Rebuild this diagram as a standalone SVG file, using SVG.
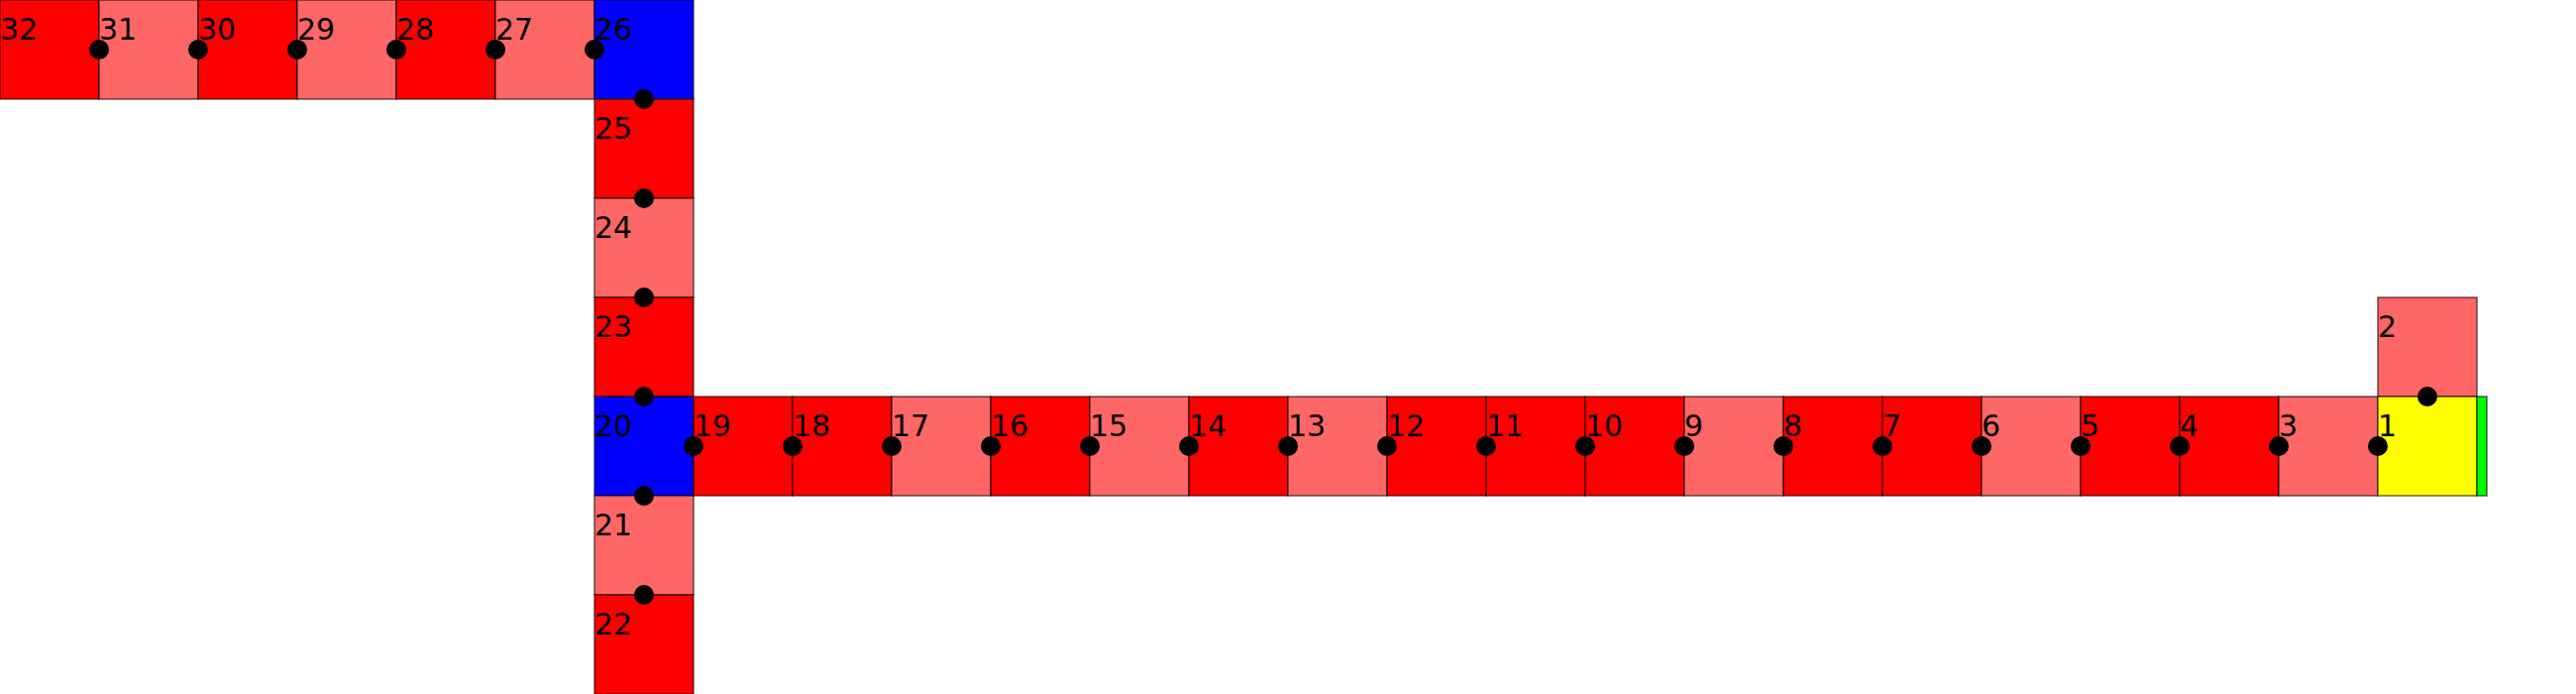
<svg xmlns="http://www.w3.org/2000/svg" width="2600" height="700" viewBox="0 0 2600 700">
<style>
rect{stroke:#000;stroke-opacity:0.6;stroke-width:1.5}
.r{fill:#ff0000}
.l{fill:#ff6666}
.b{fill:#0000ff}
.y{fill:#ffff00}
.g{fill:#00ff00}
text{font-family:"DejaVu Sans",sans-serif;font-size:30px;fill:#000}
circle{fill:#000}
</style>
<g id="nodes">
<g id="n32"><rect class="r" x="0" y="0" width="100" height="100"/><text x="0" y="40">32</text></g>
<g id="n31"><rect class="l" x="100" y="0" width="100" height="100"/><text x="100" y="40">31</text></g>
<g id="n30"><rect class="r" x="200" y="0" width="100" height="100"/><text x="200" y="40">30</text></g>
<g id="n29"><rect class="l" x="300" y="0" width="100" height="100"/><text x="300" y="40">29</text></g>
<g id="n28"><rect class="r" x="400" y="0" width="100" height="100"/><text x="400" y="40">28</text></g>
<g id="n27"><rect class="l" x="500" y="0" width="100" height="100"/><text x="500" y="40">27</text></g>
<g id="n26"><rect class="b" x="600" y="0" width="100" height="100"/><text x="600" y="40">26</text></g>
<g id="n25"><rect class="r" x="600" y="100" width="100" height="100"/><text x="600" y="140">25</text></g>
<g id="n24"><rect class="l" x="600" y="200" width="100" height="100"/><text x="600" y="240">24</text></g>
<g id="n23"><rect class="r" x="600" y="300" width="100" height="100"/><text x="600" y="340">23</text></g>
<g id="n20"><rect class="b" x="600" y="400" width="100" height="100"/><text x="600" y="440">20</text></g>
<g id="n21"><rect class="l" x="600" y="500" width="100" height="100"/><text x="600" y="540">21</text></g>
<g id="n22"><rect class="r" x="600" y="600" width="100" height="100"/><text x="600" y="640">22</text></g>
<g id="n19"><rect class="r" x="700" y="400" width="100" height="100"/><text x="700" y="440">19</text></g>
<g id="n18"><rect class="r" x="800" y="400" width="100" height="100"/><text x="800" y="440">18</text></g>
<g id="n17"><rect class="l" x="900" y="400" width="100" height="100"/><text x="900" y="440">17</text></g>
<g id="n16"><rect class="r" x="1000" y="400" width="100" height="100"/><text x="1000" y="440">16</text></g>
<g id="n15"><rect class="l" x="1100" y="400" width="100" height="100"/><text x="1100" y="440">15</text></g>
<g id="n14"><rect class="r" x="1200" y="400" width="100" height="100"/><text x="1200" y="440">14</text></g>
<g id="n13"><rect class="l" x="1300" y="400" width="100" height="100"/><text x="1300" y="440">13</text></g>
<g id="n12"><rect class="r" x="1400" y="400" width="100" height="100"/><text x="1400" y="440">12</text></g>
<g id="n11"><rect class="r" x="1500" y="400" width="100" height="100"/><text x="1500" y="440">11</text></g>
<g id="n10"><rect class="r" x="1600" y="400" width="100" height="100"/><text x="1600" y="440">10</text></g>
<g id="n9"><rect class="l" x="1700" y="400" width="100" height="100"/><text x="1700" y="440">9</text></g>
<g id="n8"><rect class="r" x="1800" y="400" width="100" height="100"/><text x="1800" y="440">8</text></g>
<g id="n7"><rect class="r" x="1900" y="400" width="100" height="100"/><text x="1900" y="440">7</text></g>
<g id="n6"><rect class="l" x="2000" y="400" width="100" height="100"/><text x="2000" y="440">6</text></g>
<g id="n5"><rect class="r" x="2100" y="400" width="100" height="100"/><text x="2100" y="440">5</text></g>
<g id="n4"><rect class="r" x="2200" y="400" width="100" height="100"/><text x="2200" y="440">4</text></g>
<g id="n3"><rect class="l" x="2300" y="400" width="100" height="100"/><text x="2300" y="440">3</text></g>
<g id="n2"><rect class="l" x="2400" y="300" width="100" height="100"/><text x="2400" y="340">2</text></g>
<g id="n1"><rect class="y" x="2400" y="400" width="100" height="100"/><text x="2400" y="440">1</text></g>
<g id="green"><rect class="g" x="2500" y="400" width="10" height="100"/></g>
</g>
<g id="connectors">
<circle cx="100" cy="50" r="10"/><circle cx="200" cy="50" r="10"/><circle cx="300" cy="50" r="10"/>
<circle cx="400" cy="50" r="10"/><circle cx="500" cy="50" r="10"/><circle cx="600" cy="50" r="10"/>
<circle cx="650" cy="100" r="10"/><circle cx="650" cy="200" r="10"/><circle cx="650" cy="300" r="10"/>
<circle cx="650" cy="400" r="10"/><circle cx="650" cy="500" r="10"/><circle cx="650" cy="600" r="10"/>
<circle cx="700" cy="450" r="10"/><circle cx="800" cy="450" r="10"/><circle cx="900" cy="450" r="10"/>
<circle cx="1000" cy="450" r="10"/><circle cx="1100" cy="450" r="10"/><circle cx="1200" cy="450" r="10"/>
<circle cx="1300" cy="450" r="10"/><circle cx="1400" cy="450" r="10"/><circle cx="1500" cy="450" r="10"/>
<circle cx="1600" cy="450" r="10"/><circle cx="1700" cy="450" r="10"/><circle cx="1800" cy="450" r="10"/>
<circle cx="1900" cy="450" r="10"/><circle cx="2000" cy="450" r="10"/><circle cx="2100" cy="450" r="10"/>
<circle cx="2200" cy="450" r="10"/><circle cx="2300" cy="450" r="10"/><circle cx="2400" cy="450" r="10"/>
<circle cx="2450" cy="400" r="10"/>
</g>
</svg>
